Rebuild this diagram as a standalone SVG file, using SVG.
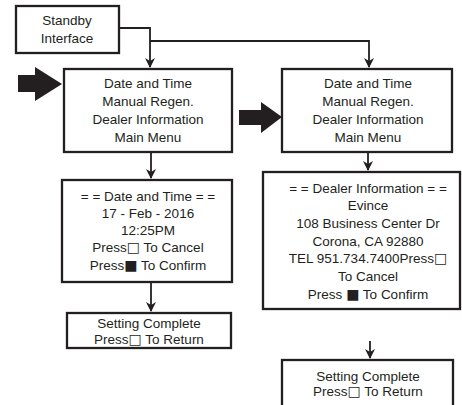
<svg xmlns="http://www.w3.org/2000/svg" width="462" height="405" viewBox="0 0 462 405">
<style>
.box{fill:#fff;stroke:#231f20;stroke-width:2.3}
.t{font-family:"Liberation Sans",Arial,sans-serif;font-size:13.5px;fill:#231f20;text-anchor:middle}
.sq{font-family:"DejaVu Sans",sans-serif;font-size:14px}
.c{fill:none;stroke:#231f20;stroke-width:1.8}
.big{fill:#231f20}
</style>
<defs>
<marker id="ah" markerWidth="10" markerHeight="10" refX="9" refY="5" orient="auto" markerUnits="userSpaceOnUse">
<path d="M0,0 L10,5 L0,10 L3,5 Z" fill="#231f20"/>
</marker>
</defs>
<g id="connectors">
<polyline class="c" points="119,28 150,28 150,67" marker-end="url(#ah)"/>
<polyline class="c" points="150,41 369,41 369,67" marker-end="url(#ah)"/>
<line class="c" x1="151" y1="152" x2="151" y2="178" marker-end="url(#ah)"/>
<line class="c" x1="368" y1="152" x2="368" y2="170" marker-end="url(#ah)"/>
<line class="c" x1="151" y1="282" x2="151" y2="311" marker-end="url(#ah)"/>
<line class="c" x1="370" y1="341" x2="370" y2="358" marker-end="url(#ah)"/>
<path class="big" d="M18,75 L35,75 L35,67 L62,84 L35,101 L35,92 L18,92 Z"/>
<path class="big" d="M239,110 L261,110 L261,102 L282,117 L261,133 L261,125 L239,125 Z"/>
</g>
<g id="standby">
<rect class="box" x="16" y="6" width="103" height="47"/>
<text class="t" x="67" y="25">Standby</text>
<text class="t" x="67" y="43">Interface</text>
</g>
<g id="menu-left">
<rect class="box" x="64" y="69" width="168" height="83"/>
<text class="t" x="148" y="88">Date and Time</text>
<text class="t" x="148" y="106">Manual Regen.</text>
<text class="t" x="148" y="124">Dealer Information</text>
<text class="t" x="148" y="142">Main Menu</text>
</g>
<g id="menu-right">
<rect class="box" x="282" y="69" width="170" height="83"/>
<text class="t" x="368" y="88">Date and Time</text>
<text class="t" x="368" y="106">Manual Regen.</text>
<text class="t" x="368" y="124">Dealer Information</text>
<text class="t" x="368" y="142">Main Menu</text>
</g>
<g id="date-time">
<rect class="box" x="62" y="180" width="170" height="102"/>
<text class="t" x="148" y="201">= = Date and Time = =</text>
<text class="t" x="148" y="218">17 - Feb - 2016</text>
<text class="t" x="148" y="235">12:25PM</text>
<text class="t" x="148" y="252">Press<tspan class="sq">□</tspan> To Cancel</text>
<text class="t" x="148" y="270">Press<tspan class="sq">■</tspan> To Confirm</text>
</g>
<g id="dealer-info">
<rect class="box" x="263" y="172" width="197" height="137"/>
<text class="t" x="368" y="193">= = Dealer Information = =</text>
<text class="t" x="368" y="210">Evince</text>
<text class="t" x="368" y="228">108 Business Center Dr</text>
<text class="t" x="368" y="246">Corona, CA 92880</text>
<text class="t" x="368" y="263">TEL 951.734.7400Press<tspan class="sq">□</tspan></text>
<text class="t" x="368" y="281">To Cancel</text>
<text class="t" x="368" y="299">Press <tspan class="sq">■</tspan> To Confirm</text>
</g>
<g id="complete-left">
<rect class="box" x="67" y="313" width="164" height="35"/>
<text class="t" x="149" y="328">Setting Complete</text>
<text class="t" x="149" y="344">Press<tspan class="sq">□</tspan> To Return</text>
</g>
<g id="complete-right">
<rect class="box" x="282" y="360" width="171" height="50"/>
<text class="t" x="368" y="381">Setting Complete</text>
<text class="t" x="368" y="396">Press<tspan class="sq">□</tspan> To Return</text>
</g>
</svg>
